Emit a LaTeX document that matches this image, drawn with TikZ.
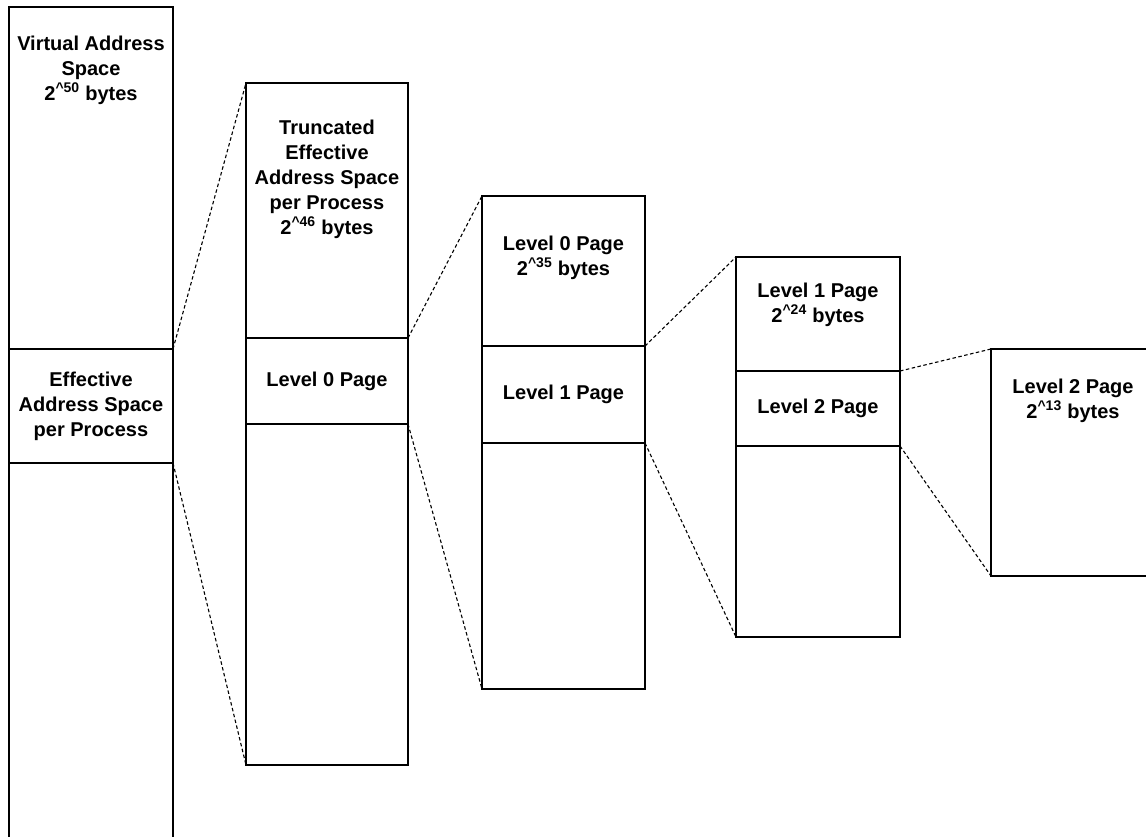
\documentclass[tikz,border=0pt]{standalone}
\usepackage{fontspec}
\setmainfont{Liberation Sans}
\usetikzlibrary{shapes.geometric}
\tikzstyle{segment} = [rectangle, draw=black, line width=1.4pt, inner sep=0pt, outer sep=0pt, align=center, font=\fontsize{20}{25}\selectfont\bfseries]
\tikzstyle{caption} = [align=center, inner sep=0pt, anchor=north, font=\fontsize{20}{25}\selectfont\bfseries]
\tikzstyle{zoomline} = [line width=1.1pt, dash pattern=on 3.5pt off 2.5pt]
\newcommand{\pw}[1]{2\textsuperscript{\textasciicircum#1}}

\begin{document}
\begin{tikzpicture}[x=1pt, y=-1pt]
\clip (0,0) rectangle (1146,836);
% virtual address space
\node (node0) [segment, minimum width=164, minimum height=342] at (91, 178) {};
\node (node1) [caption] at (91, 35.5) {Virtual Address\\Space\\\pw{50} bytes};
\node (node2) [segment, minimum width=164, minimum height=114] at (91, 406) {Effective\\Address Space\\per Process};
\node (node3) [segment, minimum width=164, minimum height=437] at (91, 681.5) {};
% truncated effective address space
\node (node4) [segment, minimum width=162, minimum height=255] at (327, 210.5) {};
\node (node5) [caption] at (327, 119.5) {Truncated\\Effective\\Address Space\\per Process\\\pw{46} bytes};
\node (node6) [segment, minimum width=162, minimum height=86] at (327, 381) {Level 0 Page};
\node (node7) [segment, minimum width=162, minimum height=341] at (327, 594.5) {};
\draw [zoomline] (node2.north east) -- (node4.north west);
\draw [zoomline] (node2.south east) -- (node7.south west);
% level 0 page
\node (node8) [segment, minimum width=163, minimum height=150] at (563.5, 271) {};
\node (node9) [caption] at (563.5, 235.5) {Level 0 Page\\\pw{35} bytes};
\node (node10) [segment, minimum width=163, minimum height=97] at (563.5, 394.5) {Level 1 Page};
\node (node11) [segment, minimum width=163, minimum height=246] at (563.5, 566) {};
\draw [zoomline] (node6.north east) -- (node8.north west);
\draw [zoomline] (node6.south east) -- (node11.south west);
% level 1 page
\node (node12) [segment, minimum width=164, minimum height=114] at (818, 314) {};
\node (node13) [caption] at (818, 282.5) {Level 1 Page\\\pw{24} bytes};
\node (node14) [segment, minimum width=164, minimum height=75] at (818, 408.5) {Level 2 Page};
\node (node15) [segment, minimum width=164, minimum height=191] at (818, 541.5) {};
\draw [zoomline] (node10.north east) -- (node12.north west);
\draw [zoomline] (node10.south east) -- (node15.south west);
% level 2 page
\node (node16) [segment, minimum width=164, minimum height=227] at (1073, 462.5) {};
\node (node17) [caption] at (1073, 378.5) {Level 2 Page\\\pw{13} bytes};
\draw [zoomline] (node14.north east) -- (node16.north west);
\draw [zoomline] (node14.south east) -- (node16.south west);
\end{tikzpicture}
\end{document}
